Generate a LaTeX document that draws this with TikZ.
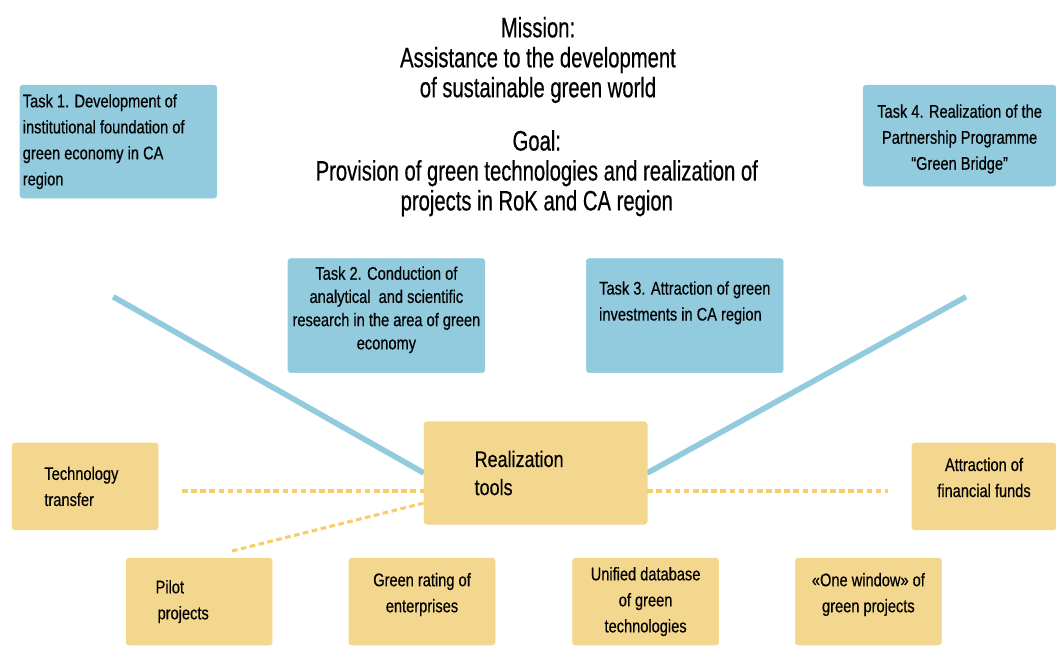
\documentclass[tikz,border=0pt]{standalone}
\usepackage{fontspec}
\setmainfont{Liberation Sans}
\newfontfamily\headfont[FakeStretch=0.72,FakeBold=0.5]{Liberation Sans}
\newfontfamily\boxfont[FakeStretch=0.8,FakeBold=0.4]{Liberation Sans}
\usepackage{tikz}
\usetikzlibrary{positioning}
\definecolor{skyblue}{RGB}{146,203,222}
\definecolor{sand}{RGB}{244,215,142}
\definecolor{sanddash}{RGB}{245,205,105}

\begin{document}
\begin{tikzpicture}[
taskrect/.style={rectangle, draw = skyblue, fill = skyblue, rounded corners = 2pt,
minimum width = 4.92cm, minimum height = 2.85cm, font = \boxfont\fontsize{13}{18.5}\selectfont},
toolrect/.style={rectangle, draw = sand, fill = sand, rounded corners = 2pt,
minimum width = 3.65cm, minimum height = 2.17cm, font = \boxfont\fontsize{13}{18.5}\selectfont},
bluearr/.style={line width = 4pt, draw = skyblue},
dotarr/.style={line width = 2.2pt, draw = sanddash, dash pattern = on 4pt off 2.5pt},
headtxt/.style={align = center, font = \headfont\fontsize{20}{21.3}\selectfont}]

\useasboundingbox (0,0) rectangle (26.4,-16.125);

% mission and goal
\node[headtxt] (mis) at (13.45,-1.5) {Mission:\\Assistance to the development\\of sustainable green world};
\node[headtxt] (goal) at (13.42,-4.33) {Goal:\\Provision of green technologies and realization of\\projects in RoK and CA region};

% ends of the blue lines
\coordinate (bl) at (2.83,-7.42);
\coordinate (br) at (24.15,-7.42);

% realization tools
\node[toolrect, minimum width = 5.57cm, minimum height = 2.55cm] (R) at (13.39,-11.825) {};
\draw[bluearr] (bl) -- (R.west);
\draw[bluearr] (br) -- (R.east);
\node[toolrect, minimum width = 5.57cm, minimum height = 2.55cm, align = left,
font = \boxfont\fontsize{16}{20}\selectfont] (R) at (13.39,-11.825) {Realization\\tools\hspace*{2.1cm}};

% tasks
\node[taskrect, align = flush left, text width = 4.78cm, inner sep = 1pt, minimum height = 2.82cm] (T1) at (2.96,-3.54) {Task 1. Development of\\institutional foundation of\\green economy in CA\\region};
\node[taskrect, align = center, minimum width = 4.82cm, minimum height = 2.52cm] (T4) at (23.99,-3.39) {\\[-0.15cm]Task 4. Realization of the\\Partnership Programme\\“Green Bridge”};
\node[taskrect] (T2) at (9.66,-7.89) {};
\node[align = center, font = \boxfont\fontsize{13}{16.5}\selectfont, anchor = north] (T2txt) at ([yshift=-0.08cm]T2.north) {Task 2. Conduction of\\analytical \ and scientific\\research in the area of green\\economy};
\node[taskrect] (T3) at (17.12,-7.89) {};
\node[align = left, font = \boxfont\fontsize{13}{18.5}\selectfont, anchor = north] (T3txt) at ([yshift=-0.45cm]T3.north) {Task 3. Attraction of green\\investments in CA region};

% tools
\node[toolrect, align = left] (TT) at (2.13,-12.16) {Technology\\transfer\hspace*{0.8cm}};
\node[toolrect, minimum width = 3.6cm, align = center] (AF) at (24.6,-12.16) {Attraction of\\financial funds\\[-0.2cm]};
\node[toolrect, align = left] (PP) at (4.98,-15.04) {Pilot\\\hspace*{0.05cm}projects\hspace*{0.85cm}};
\node[toolrect, align = center] (GR) at (10.55,-15.04) {Green rating of\\enterprises\\[-0.2cm]};
\node[toolrect, align = center] (UD) at (16.14,-15.04) {Unified database\\of green\\technologies};
\node[toolrect, align = center] (OW) at (21.71,-15.04) {«One window» of\\green projects\\[-0.2cm]};

% dotted links
\coordinate (dtl) at (4.55,-12.275);
\coordinate (dtr) at (22.2,-12.275);
\coordinate (dpp) at (5.8,-13.775);
\draw[dotarr] (dtl) -- (dtl -| R.west);
\draw[dotarr] (dtr -| R.east) -- (dtr);
\draw[dotarr] (dpp) -- ([yshift=-0.75cm]R.west);

\end{tikzpicture}
\end{document}
